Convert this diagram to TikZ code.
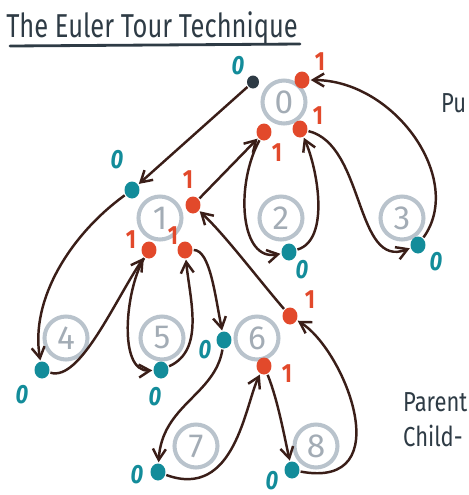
\documentclass[tikz,border=0pt]{standalone}
\usepackage{fontspec}
\setmainfont{Fira Sans}
\usepackage{tikz}
\usetikzlibrary{arrows.meta, shapes.geometric}

\definecolor{ink}{HTML}{2E3B45}
\definecolor{tour}{HTML}{3A1E18}
\definecolor{ringgrey}{HTML}{B9C3CC}
\definecolor{digitgrey}{HTML}{A3ACB5}
\definecolor{tealdot}{HTML}{138C9A}
\definecolor{reddot}{HTML}{E2492B}

\begin{document}
\begin{tikzpicture}[x=0.02cm, y=-0.02cm, -{Straight Barb[length=2.2mm,width=2.6mm]}, line width=1.4pt, color=tour,
        every node/.append style={font=\bfseries\sffamily}]
      \tikzstyle{vertex} = [circle, draw=ringgrey, line width=2.3pt, minimum size=0.86cm, inner sep=0pt,
                            text=digitgrey, font=\fontsize{19}{19}\selectfont]
      \tikzstyle{down} = [ellipse, fill=tealdot, draw=none, minimum width=0.3cm, minimum height=0.34cm, inner sep=0pt]
      \tikzstyle{up} = [ellipse, fill=reddot, draw=none, minimum width=0.3cm, minimum height=0.34cm, inner sep=0pt]
      \tikzstyle{zero} = [text=tealdot, font=\bfseries\itshape\fontsize{12.5}{12.5}\selectfont, yscale=1.2]
      \tikzstyle{one} = [text=reddot, font=\bfseries\fontsize{12.5}{12.5}\selectfont, yscale=1.2]
      \tikzstyle{note} = [anchor=west, inner sep=0pt, text=ink, font=\fontsize{12.5}{12.5}\selectfont, yscale=1.25]
      \useasboundingbox (0,0) rectangle (469,495);
      % title
      \node (title) [text=ink, font=\fontsize{14.5}{14.5}\selectfont, yscale=1.3] at (152,28) {The Euler Tour Technique};
      \draw [-, ink, line width=1.6pt, line cap=round] (10,46) -- (300,44);
      % tree vertices
      \node (N0) [vertex] at (284,102) {0};
      \node (N1) [vertex] at (160,218) {1};
      \node (N2) [vertex] at (281,218) {2};
      \node (N3) [vertex] at (402,218) {3};
      \node (N4) [vertex] at (66,338) {4};
      \node (N5) [vertex] at (162,338) {5};
      \node (N6) [vertex] at (257,338) {6};
      \node (N7) [vertex] at (196,446) {7};
      \node (N8) [vertex] at (316,446) {8};
      % tour dots
      \node (root) [down, fill=ink, minimum width=0.24cm, minimum height=0.26cm] at (253,82) {};
      \node (up0a) [up] at (302,80) {};
      \node (up0b) [up] at (264,132) {};
      \node (up0c) [up] at (300,129) {};
      \node (in1) [down] at (132,190) {};
      \node (up1a) [up] at (193,205) {};
      \node (up1b) [up] at (149,250) {};
      \node (up1c) [up] at (185,250) {};
      \node (in2) [down] at (289,252) {};
      \node (in3) [down] at (418,245) {};
      \node (in4) [down] at (42,370) {};
      \node (in5) [down] at (161,370) {};
      \node (in6) [down] at (224,340) {};
      \node (up6a) [up] at (290,316) {};
      \node (up6b) [up] at (264,366) {};
      \node (in7) [down] at (158,472) {};
      \node (in8) [down] at (292,470) {};
      % values
      \node [zero] at (238,66) {0};
      \node [one] at (320,62) {1};
      \node [one] at (277,153) {1};
      \node [one] at (318,116) {1};
      \node [zero] at (117,160) {0};
      \node [one] at (188,180) {1};
      \node [one] at (131,240) {1};
      \node [one] at (173,236) {1};
      \node [zero] at (302,270) {0};
      \node [zero] at (436,262) {0};
      \node [zero] at (22,395) {0};
      \node [zero] at (155,397) {0};
      \node [zero] at (205,350) {0};
      \node [one] at (310,300) {1};
      \node [one] at (287,374) {1};
      \node [zero] at (137,475) {0};
      \node [zero] at (272,481) {0};
      % side notes
      \node (pu) [note] at (440,103) {Pu};
      \node (parent) [note] at (402,402) {Parent};
      \node (child) [note] at (402,436) {Child-};
      % the tour
      \draw (root) -- (in1);
      \draw (in1) .. controls (70,235) and (30,300) .. (in4);
      \draw (in4) .. controls (80,382) and (115,300) .. (up1b);
      \draw (up1b) .. controls (125,290) and (118,372) .. (in5);
      \draw (in5) .. controls (205,350) and (190,300) .. (up1c);
      \draw (up1c) .. controls (210,250) and (215,295) .. (in6);
      \draw (in6) .. controls (215,395) and (162,405) .. (in7);
      \draw (in7) .. controls (235,500) and (245,405) .. (up6b);
      \draw (up6b) .. controls (278,400) and (285,440) .. (in8);
      \draw (in8) .. controls (400,490) and (345,350) .. (up6a);
      \draw (up6a) .. controls (255,275) and (225,235) .. (up1a);
      \draw (up1a) -- (up0b);
      \draw (up0b) .. controls (235,185) and (240,262) .. (in2);
      \draw (in2) .. controls (330,240) and (318,170) .. (up0c);
      \draw (up0c) .. controls (365,145) and (355,270) .. (in3);
      \draw (in3) .. controls (465,180) and (395,80) .. (up0a);
\end{tikzpicture}
\end{document}
